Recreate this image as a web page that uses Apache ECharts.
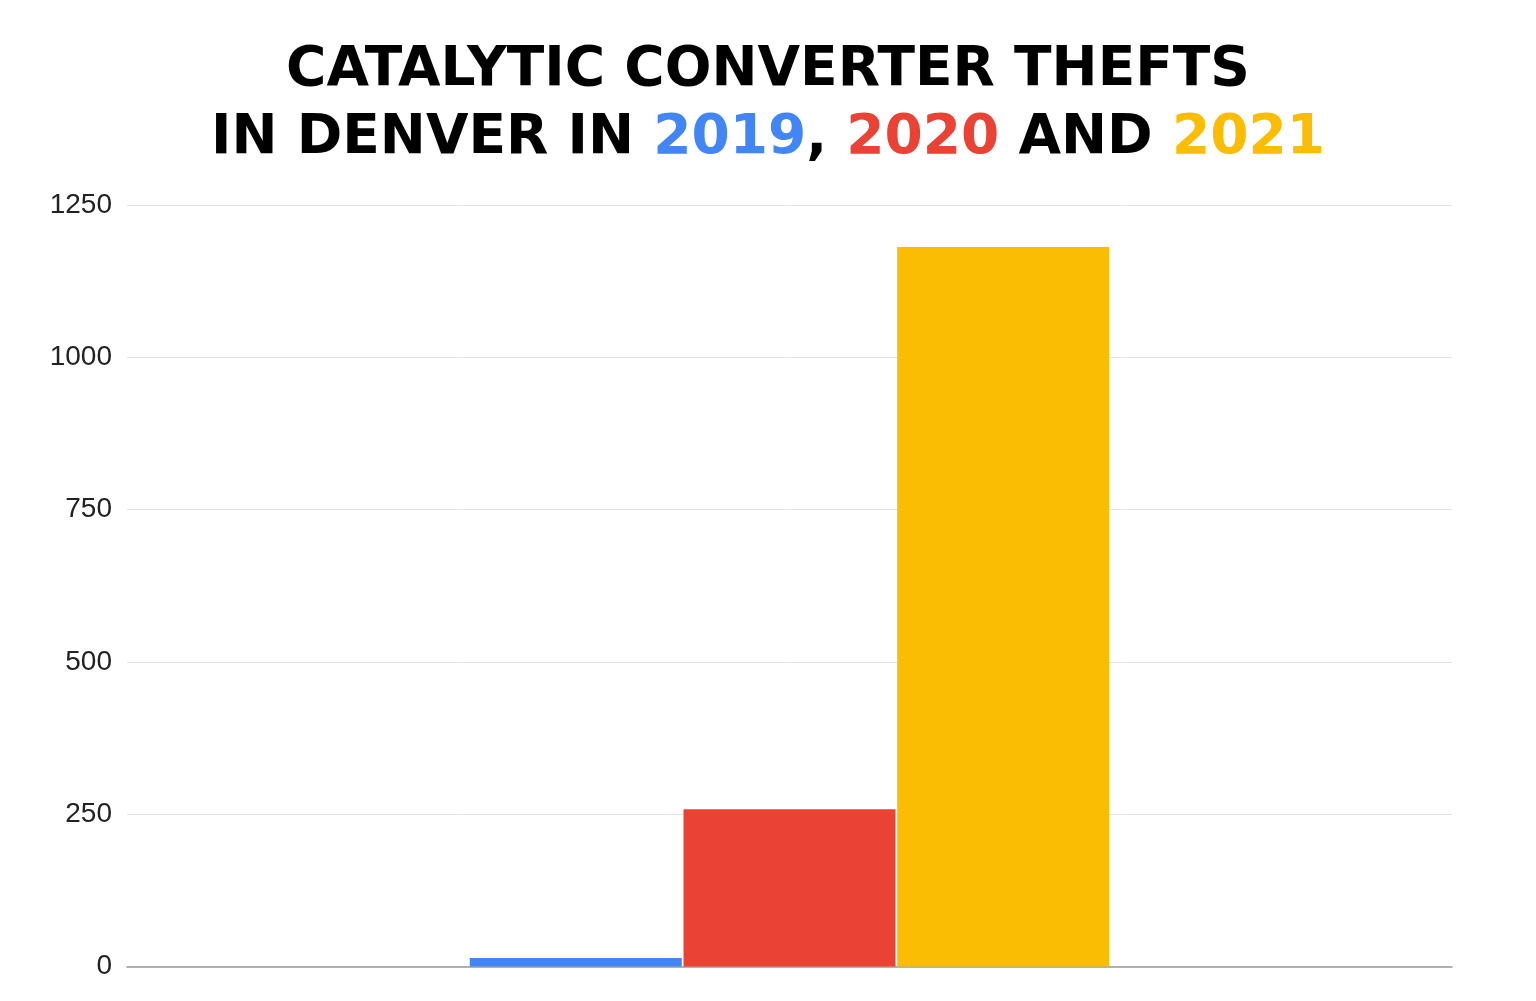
<!DOCTYPE html>
<html>
<head>
<meta charset="utf-8">
<style>
  html, body { margin: 0; padding: 0; background: #fff; }
  #main { width: 1536px; height: 1001px; }
</style>
<script src="https://cdn.jsdelivr.net/npm/echarts@6/dist/echarts.min.js"></script>
</head>
<body>
<div id="main"></div>
<script>
// data
const categories = ['Denver'];
const years = ['2019', '2020', '2021'];
const thefts = [14, 258, 1181];
const yearColors = ['#4285F4', '#EA4335', '#FBBC04'];
const yTicks = [0, 250, 500, 750, 1000, 1250];

let titleFont = {
    fontFamily: '"DejaVu Sans", sans-serif',
    fontSize: 55,
    fontWeight: 'bold',
    lineHeight: 68
};

let series = [];
for (let i = 0; i < years.length; i++) {
    series.push({
        name: years[i],
        type: 'bar',
        data: [thefts[i]],
        barWidth: '16%',
        barGap: '0.8%',
        itemStyle: { color: yearColors[i] },
        silent: true
    });
}

let option = {
    backgroundColor: '#fff',
    animation: false,
    title: {
        left: 'center',
        top: 32,
        text: '{b|CATALYTIC CONVERTER THEFTS}\n{b|IN DENVER IN }{c0|2019}{b|, }{c1|2020}{b| AND }{c2|2021}',
        textStyle: {
            rich: {
                b: Object.assign({ color: '#000' }, titleFont),
                c0: Object.assign({ color: yearColors[0] }, titleFont),
                c1: Object.assign({ color: yearColors[1] }, titleFont),
                c2: Object.assign({ color: yearColors[2] }, titleFont)
            }
        }
    },
    grid: {
        left: 127,
        right: 84,
        top: 205,
        bottom: 34.5,
        containLabel: false
    },
    xAxis: {
        type: 'category',
        data: categories,
        axisLine: { lineStyle: { color: '#999', width: 1.5 } },
        axisTick: { show: false },
        axisLabel: { show: false }
    },
    yAxis: {
        type: 'value',
        min: yTicks[0],
        max: yTicks[yTicks.length - 1],
        interval: 250,
        axisLine: { show: false },
        axisTick: { show: false },
        axisLabel: {
            margin: 15,
            color: '#222',
            fontFamily: 'Liberation Sans, Arial, sans-serif',
            fontSize: 28,
            formatter: function (v) { return String(v); }
        },
        splitLine: { lineStyle: { color: '#e3e3e3', width: 1 } }
    },
    series: series
};

let myChart = echarts.init(document.getElementById('main'));
myChart.setOption(option);
</script>
</body>
</html>
